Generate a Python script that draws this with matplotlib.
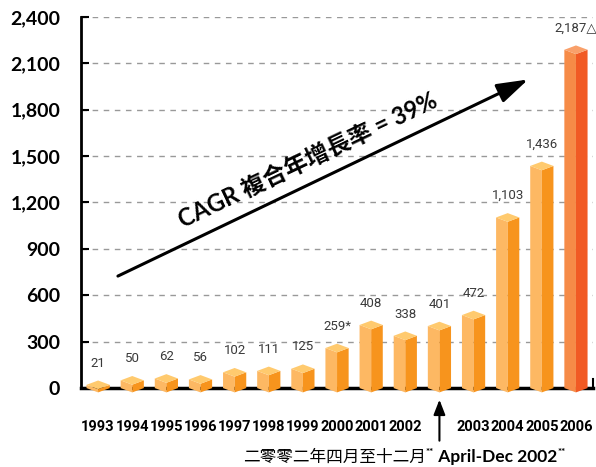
import matplotlib
matplotlib.use('Agg')
import matplotlib.pyplot as plt
from matplotlib.patches import Polygon

# data
years = ['1993', '1994', '1995', '1996', '1997', '1998', '1999', '2000', '2001', '2002',
         '', '2003', '2004', '2005', '2006']
values = [21, 50, 62, 56, 102, 111, 125, 259, 408, 338, 401, 472, 1103, 1436, 2187]
value_labels = ['21', '50', '62', '56', '102', '111', '125', '259*', '408', '338',
                '401', '472', '1,103', '1,436', '2,187\u25b3']
yticks = [0, 300, 600, 900, 1200, 1500, 1800, 2100, 2400]
ytick_labels = ['0', '300', '600', '900', '1,200', '1,500', '1,800', '2,100', '2,400']

narrow = ['Roboto', 'DejaVu Sans']
cjk = ['Lato', 'Noto Sans CJK TC', 'DejaVu Sans']

W, H = 596, 467
fig = plt.figure(figsize=(W / 100, H / 100), dpi=100)
ax = fig.add_axes([0.136, 0.169, 0.859, 0.795])

hw = 0.34   # half bar width
d = 28      # depth of the top diamond

for i, v in enumerate(values):
    if i == len(values) - 1:
        cl, cr, ct = '#F68B47', '#F15A24', '#F9A06A'
    else:
        cl, cr, ct = '#FDB863', '#F7941D', '#FFCA6E'
    left = [(i - hw, 0), (i, -d), (i, v - d), (i - hw, v)]
    right = [(i, -d), (i + hw, 0), (i + hw, v), (i, v - d)]
    top = [(i - hw, v), (i, v - d), (i + hw, v), (i, v + d)]
    for pts, c in [(left, cl), (right, cr), (top, ct)]:
        ax.add_patch(Polygon(pts, closed=True, facecolor=c, edgecolor='none',
                             zorder=3, clip_on=False))
    ax.annotate(value_labels[i], xy=(i, v), xytext=(0, 11), textcoords='offset points',
                ha='center', va='bottom', fontsize=9.5, color='#3a3a3a', family=narrow)

ax.set_xlim(-0.5, 14.5)
ax.set_ylim(0, 2400)
ax.set_yticks(yticks)
ax.set_yticklabels(ytick_labels, fontsize=14, fontweight='bold', family='Lato')
ax.set_xticks(range(len(years)))
ax.set_xticklabels(years, fontsize=10.5, fontweight='bold', family=narrow)
ax.tick_params(axis='x', length=0, pad=23)
ax.tick_params(axis='y', direction='in', length=6, width=1.5, pad=15)

ax.grid(axis='y', linestyle=(0, (4, 4)), color='#999999', linewidth=1)
ax.set_axisbelow(True)
ax.spines['top'].set_visible(False)
ax.spines['left'].set_linewidth(2)
ax.spines['bottom'].set_linewidth(2.5)
ax.spines['right'].set_linewidth(1.5)
ax.spines['right'].set_bounds(0, 60)

# CAGR arrow and text
ax.annotate('', xy=(12.6, 1995), xytext=(0.58, 724),
            arrowprops=dict(arrowstyle='-|>,head_length=1.9,head_width=0.6',
                            color='black', lw=2.2, shrinkA=0, shrinkB=0))
ax.text(6.15, 1470, 'CAGR \u8907\u5408\u5e74\u589e\u9577\u7387 = 39%', rotation=25.5,
        rotation_mode='anchor', ha='center', va='center', fontsize=17,
        fontweight='bold', family=cjk)

# April-Dec 2002 arrow
ax.annotate('', xy=(10, -75), xytext=(10, -340), xycoords='data', annotation_clip=False,
            arrowprops=dict(arrowstyle='-|>,head_length=0.9,head_width=0.35',
                            color='black', lw=1.5, shrinkA=0, shrinkB=0))

# footnote laid out piece by piece, stars raised
pieces = [('\u4e8c\u96f6\u96f6\u4e8c\u5e74\u56db\u6708\u81f3\u5341\u4e8c\u6708', 12, 'normal', 0),
          ('**', 7, 'bold', 7),
          (' April-Dec 2002', 12.5, 'bold', 0),
          ('**', 7, 'bold', 7)]
fig.canvas.draw()
renderer = fig.canvas.get_renderer()
x = 243
base = 5
for s, fs, fw, rise in pieces:
    t = fig.text(x / W, (base + rise) / H, s, fontsize=fs, fontweight=fw, family=cjk,
                 ha='left', va='baseline')
    x = t.get_window_extent(renderer).x1

fig.savefig('out.png', dpi=100)
